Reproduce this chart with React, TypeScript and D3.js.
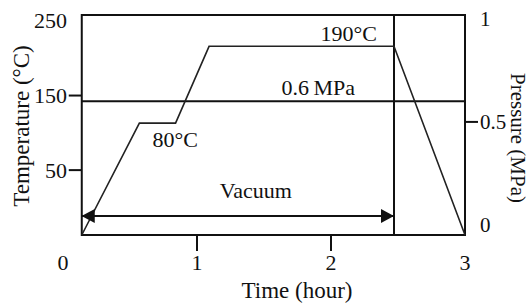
import React from 'react';
import * as d3 from 'd3';

// time axis (hour)
const timeTicks = [0, 1, 2, 3];
const timeTickMarks = [1, 2];
// left axis, temperature (ºC)
const tempTicks = [250, 150, 50];
const tempTickMarks = [150, 50];
// right axis, pressure (MPa)
const pressureTicks = [1, 0.5, 0];
const pressureTickMarks = [0.5];

// temperature profile
const profileTime = [0.14, 0.57, 0.84, 1.09, 2.47, 3.0];
const profileTemp = [-37, 113, 113, 216, 216, -37];

const pressureHold = 0.6;
const releaseTime = 2.47;
const vacuumStart = 0.14;
const vacuumEnd = 2.47;

const W = 531;
const H = 305;
const font = '"Liberation Serif", "Times New Roman", serif';
const ink = '#111';

const App = () => {
  const x = d3.scaleLinear().domain([0, 3]).range([63, 465]);
  const yT = d3.scaleLinear().domain([-37, 258]).range([235, 15]);
  const yP = d3.scaleLinear().domain([-0.05, 1.02]).range([235, 15]);

  const left = x(profileTime[0]);
  const right = x(3);
  const [bottom, top] = yT.range();

  const line = d3.line<number>()
    .x((_, i) => x(profileTime[i]))
    .y(d => yT(d));

  const vacY = bottom - 19;

  return (
    <svg width={W} height={H} style={{ position: 'absolute', left: 0, top: 0, background: '#fff' }}
      fontFamily={font} fontSize={22} fill={ink}>
      <defs>
        <marker id="arr" viewBox="0 0 13 14" refX="13" refY="7" markerWidth="13" markerHeight="14"
          markerUnits="userSpaceOnUse" orient="auto-start-reverse">
          <path d="M0,0 L13,7 L0,14 Z" fill={ink} />
        </marker>
      </defs>

      {/* frame */}
      <rect x={left} y={top} width={right - left} height={bottom - top}
        fill="none" stroke={ink} strokeWidth={2} />

      {/* pressure hold and release */}
      <line x1={left} x2={right} y1={yP(pressureHold)} y2={yP(pressureHold)} stroke={ink} strokeWidth={2} />
      <line x1={x(releaseTime)} x2={x(releaseTime)} y1={top} y2={bottom} stroke={ink} strokeWidth={2} />

      {/* temperature profile */}
      <path d={line(profileTemp) || ''} fill="none" stroke="#222" strokeWidth={1.6} />

      {/* vacuum arrow */}
      <line x1={x(vacuumStart)} x2={x(vacuumEnd)} y1={vacY} y2={vacY} stroke={ink} strokeWidth={2}
        markerStart="url(#arr)" markerEnd="url(#arr)" />

      {/* annotations */}
      <text x={x(vacuumStart) + 174} y={vacY - 18} textAnchor="middle">Vacuum</text>
      <text x={x(profileTime[1]) + 13} y={yT(profileTemp[1]) + 24}>80°C</text>
      <text x={x(profileTime[4]) - 17} y={yT(profileTemp[4]) - 5} textAnchor="end">190°C</text>
      <text x={x(releaseTime) - 39} y={yP(pressureHold) - 6} textAnchor="end">0.6&#8201;MPa</text>

      {/* left axis */}
      {tempTicks.map(v => (
        <text key={'t' + v} x={67} y={yT(v)} dy="0.34em" textAnchor="end">{v}</text>
      ))}
      {tempTickMarks.map(v => (
        <line key={'tm' + v} x1={left - 13} x2={left} y1={yT(v)} y2={yT(v)} stroke={ink} strokeWidth={2} />
      ))}

      {/* right axis */}
      {pressureTicks.map(v => (
        <text key={'p' + v} x={480} y={yP(v)} dy="0.34em" fontSize={21}>{v}</text>
      ))}
      {pressureTickMarks.map(v => (
        <line key={'pm' + v} x1={right} x2={right + 13} y1={yP(v)} y2={yP(v)} stroke={ink} strokeWidth={2} />
      ))}

      {/* bottom axis */}
      {timeTicks.map(v => (
        <text key={'x' + v} x={x(v)} y={270} textAnchor="middle">{v}</text>
      ))}
      {timeTickMarks.map(v => (
        <line key={'xm' + v} x1={x(v)} x2={x(v)} y1={bottom} y2={bottom + 16} stroke={ink} strokeWidth={2} />
      ))}

      {/* axis titles */}
      <text x={297} y={298} textAnchor="middle" fontSize={23}>Time (hour)</text>
      <text transform={`translate(29,126) rotate(-90)`} textAnchor="middle" fontSize={23}>Temperature (°C)</text>
      <text transform={`translate(511,138) rotate(90)`} textAnchor="middle" fontSize={21}>Pressure (MPa)</text>
    </svg>
  );
};

export default App;
